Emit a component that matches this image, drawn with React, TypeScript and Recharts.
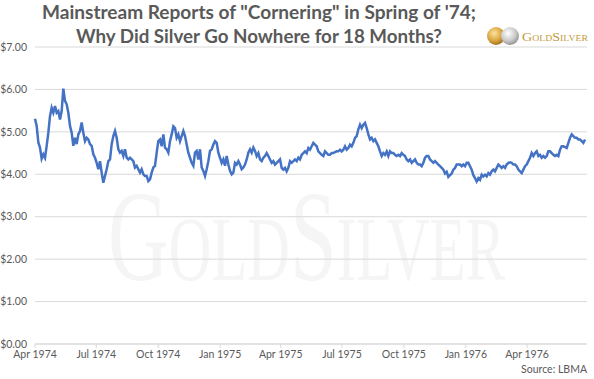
import React from 'react';
import { LineChart, Line, XAxis, YAxis, CartesianGrid } from 'recharts';

// LBMA silver fix, sampled roughly every 2.5 days from 1 Apr 1974
const startDate = '1974-04-01';
const sampleDays = 2.476;

const silverPrices = [
  5.31, 5.14, 4.75, 4.63, 4.37, 4.47, 4.39, 4.67, 4.98, 5.37, 5.57, 5.45, 5.61, 5.45, 5.49, 5.29,
  5.49, 6.02, 5.73, 5.65, 5.45, 5.14, 4.98, 4.67, 4.86, 4.71, 4.94, 5.02, 5.22, 4.98, 4.78, 4.86,
  4.82, 4.71, 4.67, 4.47, 4.39, 4.27, 4.12, 4.31, 4.04, 3.8, 3.96, 4.12, 4.31, 4.35, 4.71, 4.9,
  5.02, 4.86, 4.59, 4.51, 4.55, 4.43, 4.59, 4.39, 4.35, 4.39, 4.35, 4.31, 4.16, 4.2, 4.12, 4.04,
  4.12, 4.0, 3.96,
  3.96, 3.84, 3.88, 4.04, 4.16, 4.2, 4.51, 4.78, 4.82, 4.66, 4.94, 4.63, 4.59, 4.51, 4.78, 4.94,
  5.13, 5.09, 4.86, 4.94, 4.78, 4.9, 5.02, 4.9, 4.7, 4.51, 4.39, 4.27, 4.2, 4.51, 4.55, 4.35,
  4.59, 4.16, 4.08, 3.96, 4.12, 4.31, 4.55, 4.59, 4.7, 4.78, 4.74, 4.51, 4.39, 4.27, 4.35, 4.2,
  4.43, 4.23, 4.08, 4.0, 4.04, 4.27, 4.23, 4.31, 4.23, 4.12, 4.16, 4.23, 4.35, 4.51, 4.59, 4.51,
  4.63, 4.55,
  4.43, 4.5, 4.35, 4.31, 4.39, 4.43, 4.5, 4.43, 4.35, 4.27, 4.31, 4.23, 4.27, 4.31, 4.35, 4.15,
  4.11, 4.15, 4.07, 4.15, 4.31, 4.27, 4.31, 4.35, 4.31, 4.39, 4.35, 4.46, 4.5, 4.54, 4.5, 4.62,
  4.58, 4.66, 4.74, 4.7, 4.66, 4.54, 4.5, 4.46, 4.43, 4.54, 4.5, 4.46, 4.46, 4.5, 4.5, 4.52,
  4.54, 4.54, 4.58, 4.54, 4.58, 4.66, 4.58, 4.62, 4.7, 4.66, 4.74, 4.86, 4.9, 5.06, 5.17, 5.09,
  5.17, 5.21,
  5.09, 4.94, 4.82, 4.86, 4.78, 4.82, 4.74, 4.66, 4.54, 4.43, 4.5, 4.46, 4.54, 4.43, 4.54, 4.5,
  4.5, 4.46, 4.43, 4.46, 4.43, 4.5, 4.46, 4.43, 4.35, 4.31, 4.35, 4.27, 4.31, 4.35, 4.27, 4.23,
  4.23, 4.19, 4.27, 4.39, 4.43, 4.43, 4.35, 4.31, 4.27, 4.31, 4.27, 4.23, 4.19, 4.15, 4.11, 4.02,
  4.06, 3.94, 3.98, 4.02, 4.11, 4.15, 4.23, 4.23, 4.23, 4.19, 4.23, 4.19, 4.27, 4.27, 4.19, 4.11,
  3.98, 3.91,
  3.83, 3.91, 3.87, 3.99, 3.95, 3.99, 3.95, 4.03, 3.99, 4.07, 4.11, 4.07, 4.15, 4.23, 4.19, 4.15,
  4.19, 4.15, 4.23, 4.27, 4.28, 4.27, 4.23, 4.23, 4.19, 4.11, 4.07, 4.03, 4.11, 4.19, 4.23, 4.31,
  4.39, 4.5, 4.43, 4.5, 4.54, 4.43, 4.46, 4.39, 4.43, 4.39, 4.43, 4.54, 4.54, 4.5, 4.46, 4.43,
  4.46, 4.43, 4.58, 4.66, 4.66, 4.64, 4.62, 4.74, 4.86, 4.94, 4.9, 4.86, 4.86, 4.82, 4.82, 4.78,
  4.74, 4.82,
];

const tickDates = [
  '1974-04-01', '1974-07-01', '1974-10-01', '1975-01-01', '1975-04-01',
  '1975-07-01', '1975-10-01', '1976-01-01', '1976-04-01',
];
const tickLabels = [
  'Apr 1974', 'Jul 1974', 'Oct 1974', 'Jan 1975', 'Apr 1975',
  'Jul 1975', 'Oct 1975', 'Jan 1976', 'Apr 1976',
];
const priceTicks = [0, 1, 2, 3, 4, 5, 6, 7];

const DAY = 86400000;
const daysFromStart = (d: string) =>
  Math.round((Date.parse(d) - Date.parse(startDate)) / DAY);

const tickDays = tickDates.map(daysFromStart);
const data = silverPrices.map((price, i) => ({ day: i * sampleDays, price }));

const FONT = 'Lato, "Open Sans", sans-serif';
const SERIF = '"Liberation Serif", "DejaVu Serif", serif';
const TEXT = '#595959';
const GRID = '#d9d9d9';
const GOLD = '#c39a3c';

function Backdrop() {
  return (
    <svg
      width={594}
      height={379}
      style={{ position: 'absolute', left: 0, top: 0 }}
    >
      <defs>
        <radialGradient id="goldCoin" cx="40%" cy="35%" r="70%">
          <stop offset="0%" stopColor="#fbe39a" />
          <stop offset="60%" stopColor="#d9a441" />
          <stop offset="100%" stopColor="#9c6a1c" />
        </radialGradient>
        <radialGradient id="silverCoin" cx="40%" cy="35%" r="70%">
          <stop offset="0%" stopColor="#ffffff" />
          <stop offset="60%" stopColor="#c9c9c9" />
          <stop offset="100%" stopColor="#8c8c8c" />
        </radialGradient>
      </defs>

      {/* watermark, stretched tall like the brand face */}
      <g transform="translate(108 280) scale(1 1.55)">
        <text
          x={0}
          y={0}
          fontSize={83}
          fontFamily={SERIF}
          fill="#f5f5f5"
          style={{ fontVariant: 'small-caps' }}
          textLength={397}
          lengthAdjust="spacingAndGlyphs"
        >
          GoldSilver
        </text>
      </g>

      {/* title */}
      <text
        x={259}
        y={19}
        textAnchor="middle"
        fontFamily={FONT}
        fontWeight={700}
        fontSize={19}
        fill={TEXT}
        textLength={434}
        lengthAdjust="spacingAndGlyphs"
      >
        Mainstream Reports of "Cornering" in Spring of '74;
      </text>
      <text
        x={259}
        y={43}
        textAnchor="middle"
        fontFamily={FONT}
        fontWeight={700}
        fontSize={19}
        fill={TEXT}
        textLength={366}
        lengthAdjust="spacingAndGlyphs"
      >
        Why Did Silver Go Nowhere for 18 Months?
      </text>

      {/* logo */}
      <circle cx={496} cy={36} r={9} fill="url(#goldCoin)" />
      <circle cx={510} cy={36} r={9} fill="url(#silverCoin)" />
      <text
        x={522}
        y={40.5}
        fontSize={11.5}
        fontFamily={SERIF}
        fill={GOLD}
        style={{ fontVariant: 'small-caps' }}
        textLength={66}
        lengthAdjust="spacingAndGlyphs"
      >
        GoldSilver
      </text>

      <text
        x={587}
        y={373}
        textAnchor="end"
        fontFamily={FONT}
        fontSize={10.5}
        fill={TEXT}
      >
        Source: LBMA
      </text>
    </svg>
  );
}

export default function App() {
  return (
    <div
      style={{
        position: 'absolute',
        left: 0,
        top: 0,
        width: 594,
        height: 379,
        background: '#fff',
      }}
    >
      <Backdrop />
      <div style={{ position: 'absolute', left: 0, top: 0 }}>
        <LineChart
          width={594}
          height={379}
          data={data}
          margin={{ top: 47, right: 7, bottom: 15, left: 0 }}
        >
          <CartesianGrid vertical={false} stroke={GRID} />
          <XAxis
            type="number"
            dataKey="day"
            domain={[0, 820]}
            ticks={tickDays}
            interval={0}
            tickFormatter={(v: number) => tickLabels[tickDays.indexOf(v)] ?? ''}
            height={20}
            stroke={GRID}
            tickSize={4}
            tickMargin={3}
            tick={{ fill: TEXT, fontSize: 10.5, fontFamily: FONT }}
          />
          <YAxis
            domain={[0, 7]}
            ticks={priceTicks}
            width={35}
            axisLine={false}
            tickLine={false}
            tickFormatter={(v: number) => `$${v.toFixed(2)}`}
            tick={{ fill: TEXT, fontSize: 10.5, fontFamily: FONT }}
          />
          <Line
            type="linear"
            dataKey="price"
            stroke="#4472C4"
            strokeWidth={2.5}
            dot={false}
            isAnimationActive={false}
          />
        </LineChart>
      </div>
    </div>
  );
}
